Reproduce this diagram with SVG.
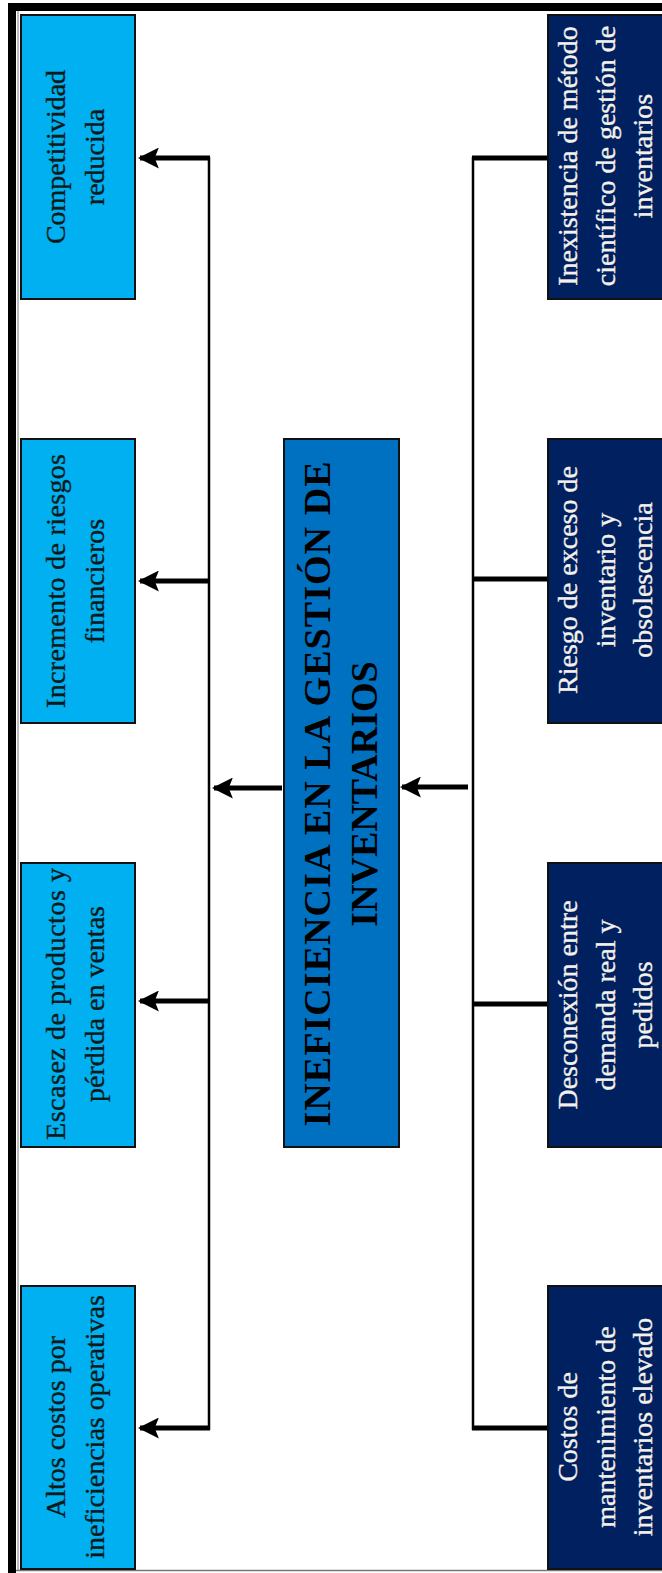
<svg xmlns="http://www.w3.org/2000/svg" width="662" height="1573" viewBox="0 0 662 1573">
<defs>
<style>
.eff{fill:#00B0F0;stroke:#111;stroke-width:2}
.cau{fill:#002060;stroke:#111;stroke-width:2}
.core{fill:#0070C0;stroke:#111;stroke-width:2}
.t{font-family:"Liberation Serif","Times New Roman",serif;font-size:28px;text-anchor:middle;stroke-width:0.35}
.td{fill:#0d1a1a;stroke:#0d1a1a}
.tl{fill:#f4f1ea;stroke:#f4f1ea}
.tc{font-family:"Liberation Serif","Times New Roman",serif;font-size:38px;font-weight:bold;text-anchor:middle;fill:#000}
.vl{stroke:#000;stroke-width:2.5;fill:none}
.sh{stroke:#000;stroke-width:5;fill:none}
</style>
<marker id="ah" viewBox="0 0 10 10" refX="9" refY="5" markerWidth="4.2" markerHeight="4.2" markerUnits="strokeWidth" orient="auto">
<path d="M0,0 L10,5 L0,10 L2,5 Z" fill="#000"/>
</marker>
</defs>
<rect x="0" y="0" width="662" height="1573" fill="#fff"/>
<g id="frame">
<rect x="8" y="3" width="654" height="8" fill="#000"/>
<rect x="8" y="3" width="8" height="1570" fill="#000"/>
<line x1="18" y1="11" x2="18" y2="1571" stroke="#777" stroke-width="1"/>
<line x1="16" y1="1570.5" x2="662" y2="1570.5" stroke="#777" stroke-width="1.5"/>
</g>
<g id="connectors">
<path class="vl" d="M209,157 V1430"/>
<path class="vl" d="M473,157 V1430"/>
<path class="sh" d="M210,158 H140" marker-end="url(#ah)"/>
<path class="sh" d="M208,581 H140" marker-end="url(#ah)"/>
<path class="sh" d="M208,1001 H140" marker-end="url(#ah)"/>
<path class="sh" d="M210,1428 H140" marker-end="url(#ah)"/>
<path class="sh" d="M282,788 H214" marker-end="url(#ah)"/>
<path class="sh" d="M468,787 H402" marker-end="url(#ah)"/>
<path class="sh" d="M472,158 H547"/>
<path class="sh" d="M472,579 H547"/>
<path class="sh" d="M472,1004 H547"/>
<path class="sh" d="M472,1428 H547"/>
</g>
<g id="e1">
<rect class="eff" x="21" y="15" width="114" height="284"/>
<text class="t td" transform="translate(65,157) rotate(-90)">Competitividad</text>
<text class="t td" transform="translate(104,157) rotate(-90)">reducida</text>
</g>
<g id="e2">
<rect class="eff" x="21" y="439" width="114" height="284"/>
<text class="t td" transform="translate(65,581) rotate(-90)" textLength="254" lengthAdjust="spacing">Incremento de riesgos</text>
<text class="t td" transform="translate(104,581) rotate(-90)">financieros</text>
</g>
<g id="e3">
<rect class="eff" x="21" y="863" width="114" height="284"/>
<text class="t td" transform="translate(65,1004) rotate(-90)" textLength="272" lengthAdjust="spacing">Escasez de productos y</text>
<text class="t td" transform="translate(104,1004) rotate(-90)">pérdida en ventas</text>
</g>
<g id="e4">
<rect class="eff" x="21" y="1286" width="114" height="283"/>
<text class="t td" transform="translate(65,1427) rotate(-90)">Altos costos por</text>
<text class="t td" transform="translate(104,1427) rotate(-90)">ineficiencias operativas</text>
</g>
<g id="center">
<rect class="core" x="284" y="439" width="115" height="708"/>
<text class="tc" transform="translate(330,794) rotate(-90)" textLength="665" lengthAdjust="spacing">INEFICIENCIA EN LA GESTIÓN DE</text>
<text class="tc" transform="translate(377,794) rotate(-90)">INVENTARIOS</text>
</g>
<g id="c1">
<rect class="cau" x="548" y="15" width="120" height="284"/>
<text class="t tl" transform="translate(577,156) rotate(-90)">Inexistencia de método</text>
<text class="t tl" transform="translate(614.5,156) rotate(-90)">científico de gestión de</text>
<text class="t tl" transform="translate(652,156) rotate(-90)">inventarios</text>
</g>
<g id="c2">
<rect class="cau" x="548" y="439" width="120" height="284"/>
<text class="t tl" transform="translate(577,580) rotate(-90)">Riesgo de exceso de</text>
<text class="t tl" transform="translate(614.5,580) rotate(-90)">inventario y</text>
<text class="t tl" transform="translate(652,580) rotate(-90)">obsolescencia</text>
</g>
<g id="c3">
<rect class="cau" x="548" y="863" width="120" height="284"/>
<text class="t tl" transform="translate(577,1005) rotate(-90)">Desconexión entre</text>
<text class="t tl" transform="translate(614.5,1005) rotate(-90)">demanda real y</text>
<text class="t tl" transform="translate(652,1005) rotate(-90)">pedidos</text>
</g>
<g id="c4">
<rect class="cau" x="548" y="1286" width="120" height="283"/>
<text class="t tl" transform="translate(577,1427) rotate(-90)">Costos de</text>
<text class="t tl" transform="translate(614.5,1427) rotate(-90)">mantenimiento de</text>
<text class="t tl" transform="translate(652,1427) rotate(-90)">inventarios elevado</text>
</g>
</svg>
